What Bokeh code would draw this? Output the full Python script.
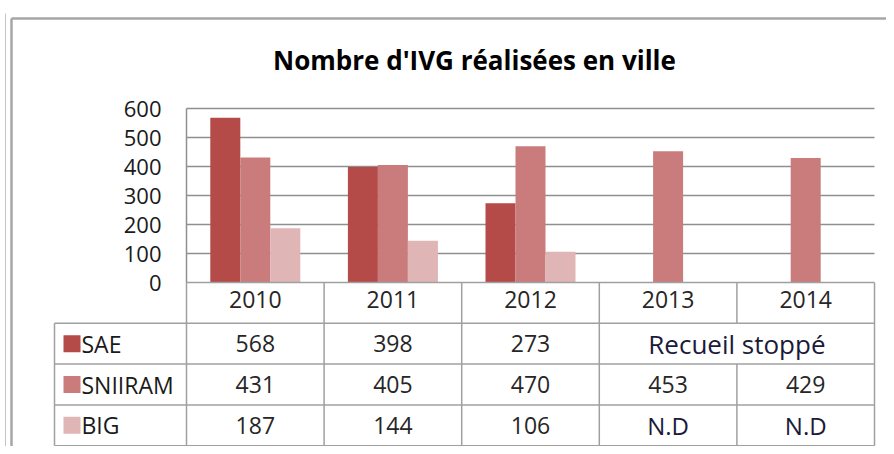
import math
from bokeh.plotting import figure
from bokeh.models import Range1d, LinearAxis, FixedTicker, Label
from bokeh.core.properties import value
from bokeh.embed import file_html
from bokeh.resources import INLINE

# ---------------- data ----------------
title_text = "Nombre d'IVG réalisées en ville"
years = ["2010", "2011", "2012", "2013", "2014"]
series_names = ["SAE", "SNIIRAM", "BIG"]
sae = [568, 398, 273, None, None]
sniiram = [431, 405, 470, 453, 429]
big = [187, 144, 106, None, None]
y_ticks = [0, 100, 200, 300, 400, 500, 600]
sae_note = "Recueil stoppé"
missing_note = "N.D"

# ---------------- style / layout ----------------
colors = ["#B44B49", "#C97C7B", "#DFB5B5"]
grid_col = "#8f8f8f"
table_col = "#a0a0a0"
font = "Open Sans"
PAGE = 0
FRAME_L, FRAME_T, FRAME_R, FRAME_B = 0, 0, 886, 446
W, H = FRAME_R - PAGE, FRAME_B - PAGE
BORDER_L, BORDER_T = 11, 18
PLOT_L, PLOT_R = 186, 874
ZERO_Y, TOP_Y, TOP_V = 282, 108, 600
ROW_H = 40.8
LEG_L = 54

ncat = len(years)
pxc = (PLOT_R - PLOT_L) / ncat
pxv = (ZERO_Y - TOP_Y) / TOP_V


def xd(px):
    return (px - PLOT_L) / pxc


def yd(py):
    return (ZERO_Y - py) / pxv


def td(py):
    return (ZERO_Y - py) / ROW_H


p = figure(width=W, height=H, output_backend="svg", toolbar_location=None,
           x_axis_type=None, y_axis_type=None,
           x_range=Range1d(xd(FRAME_L), xd(FRAME_R)),
           y_range=Range1d(yd(FRAME_B), yd(FRAME_T)),
           min_border_left=FRAME_L - PAGE, min_border_top=FRAME_T - PAGE,
           min_border_right=0, min_border_bottom=0)
p.extra_y_ranges = {"tbl": Range1d(td(FRAME_B), td(FRAME_T))}
p.outline_line_color = None
p.background_fill_color = "white"
p.border_fill_color = "white"

# outer chart border (left & top) and the thin outer line
p.segment(x0=[xd(BORDER_L), xd(BORDER_L)], x1=[xd(BORDER_L), xd(FRAME_R)],
          y0=[yd(BORDER_T), yd(BORDER_T)], y1=[yd(FRAME_B), yd(BORDER_T)],
          line_color="#a6a6a6", line_width=2.5)
p.segment(x0=[xd(5)], x1=[xd(5)], y0=[yd(13)], y1=[yd(FRAME_B)],
          line_color="#c4c4c4", line_width=1)

# gridlines (from tick values)
gt = [t for t in y_ticks if t > 0]
p.segment(x0=[0] * len(gt), x1=[ncat] * len(gt), y0=gt, y1=gt, line_color=grid_col, line_width=1.5)

# bars
bw = 30 / pxc
for k, (name, vals) in enumerate(zip(series_names, [sae, sniiram, big])):
    xs, tops = [], []
    for i, v in enumerate(vals):
        if v is not None:
            xs.append(i + 0.5 + (k - 1) * bw)
            tops.append(v)
    p.vbar(x=xs, top=tops, bottom=0, width=bw, fill_color=colors[k], line_color=None)

# y axis
yax = LinearAxis(fixed_location=0, bounds=(0, TOP_V), ticker=FixedTicker(ticks=y_ticks),
                 axis_line_color=grid_col, axis_line_width=1.5,
                 major_tick_in=0, major_tick_out=0, minor_tick_in=0, minor_tick_out=0,
                 major_label_standoff=25,
                 major_label_text_font=font, major_label_text_font_size="22px",
                 major_label_text_color="#1a1a1a")
p.add_layout(yax, "left")

# x axis (years in table header)
centers = [i + 0.5 for i in range(ncat)]
xax = LinearAxis(fixed_location=0, bounds=(0, ncat), ticker=FixedTicker(ticks=centers),
                 major_label_overrides={c: y for c, y in zip(centers, years)},
                 axis_line_color=table_col, axis_line_width=1.5,
                 major_tick_in=0, major_tick_out=0, minor_tick_in=0, minor_tick_out=0,
                 major_label_standoff=8,
                 major_label_text_font=font, major_label_text_font_size="23px",
                 major_label_text_color="#262626")
p.add_layout(xax, "below")

# table lines
nrows = len(series_names)
lx = xd(LEG_L)
x0s, x1s, y0s, y1s = [], [], [], []
for r in range(1, nrows + 2):
    x0s.append(lx); x1s.append(ncat); y0s.append(-r); y1s.append(-r)
x0s.append(lx); x1s.append(lx); y0s.append(-1); y1s.append(-(nrows + 1))
for c in range(ncat + 1):
    if c == ncat - 1:
        # merged SAE cell for the last two years
        x0s += [c, c]; x1s += [c, c]; y0s += [0, -2]; y1s += [-1, -(nrows + 1)]
    else:
        x0s.append(c); x1s.append(c); y0s.append(0); y1s.append(-(nrows + 1))
p.segment(x0=x0s, x1=x1s, y0=y0s, y1=y1s, line_color=table_col, line_width=1.5, y_range_name="tbl")

# legend squares & names
row_y = [-(r + 1.5) for r in range(nrows)]
p.scatter(x=[xd(71.5)] * nrows, y=row_y, marker="square", size=17, fill_color=colors,
          line_color=None, y_range_name="tbl")
p.text(x=[xd(81)] * nrows, y=row_y, text=series_names, text_font=value(font),
       text_font_size="23px", text_align="left", text_baseline="middle", text_color="#1a1a1a",
       y_range_name="tbl")

# cell values
cx, cy, ct = [], [], []
nx, ny, nt = [], [], []
for r, vals in enumerate([sae, sniiram, big]):
    for i, v in enumerate(vals):
        if v is not None:
            cx.append(i + 0.5); cy.append(row_y[r]); ct.append(str(v))
        elif r != 0:
            nx.append(i + 0.5); ny.append(row_y[r]); nt.append(missing_note)
missing_sae = [i for i, v in enumerate(sae) if v is None]
p.text(x=cx, y=cy, text=ct, text_font=value(font), text_font_size="23px",
       text_align="center", text_baseline="middle", text_color="#262626", y_range_name="tbl")
p.text(x=nx, y=ny, text=nt, text_font=value(font), text_font_size="24px",
       text_align="center", text_baseline="middle", text_color="#1a1a3a", y_range_name="tbl")
p.text(x=[(missing_sae[0] + missing_sae[-1] + 1) / 2], y=[row_y[0]], text=[sae_note],
       text_font=value(font), text_font_size="26px", text_align="center",
       text_baseline="middle", text_color="#1a1a3a", y_range_name="tbl")

# title
p.add_layout(Label(x=xd(474), y=yd(59), text=title_text, text_font=font,
                   text_font_size="26px", text_font_style="bold", text_align="center",
                   text_baseline="middle", text_color="#000000"))

open("out.html", "w").write(file_html(p, INLINE))
